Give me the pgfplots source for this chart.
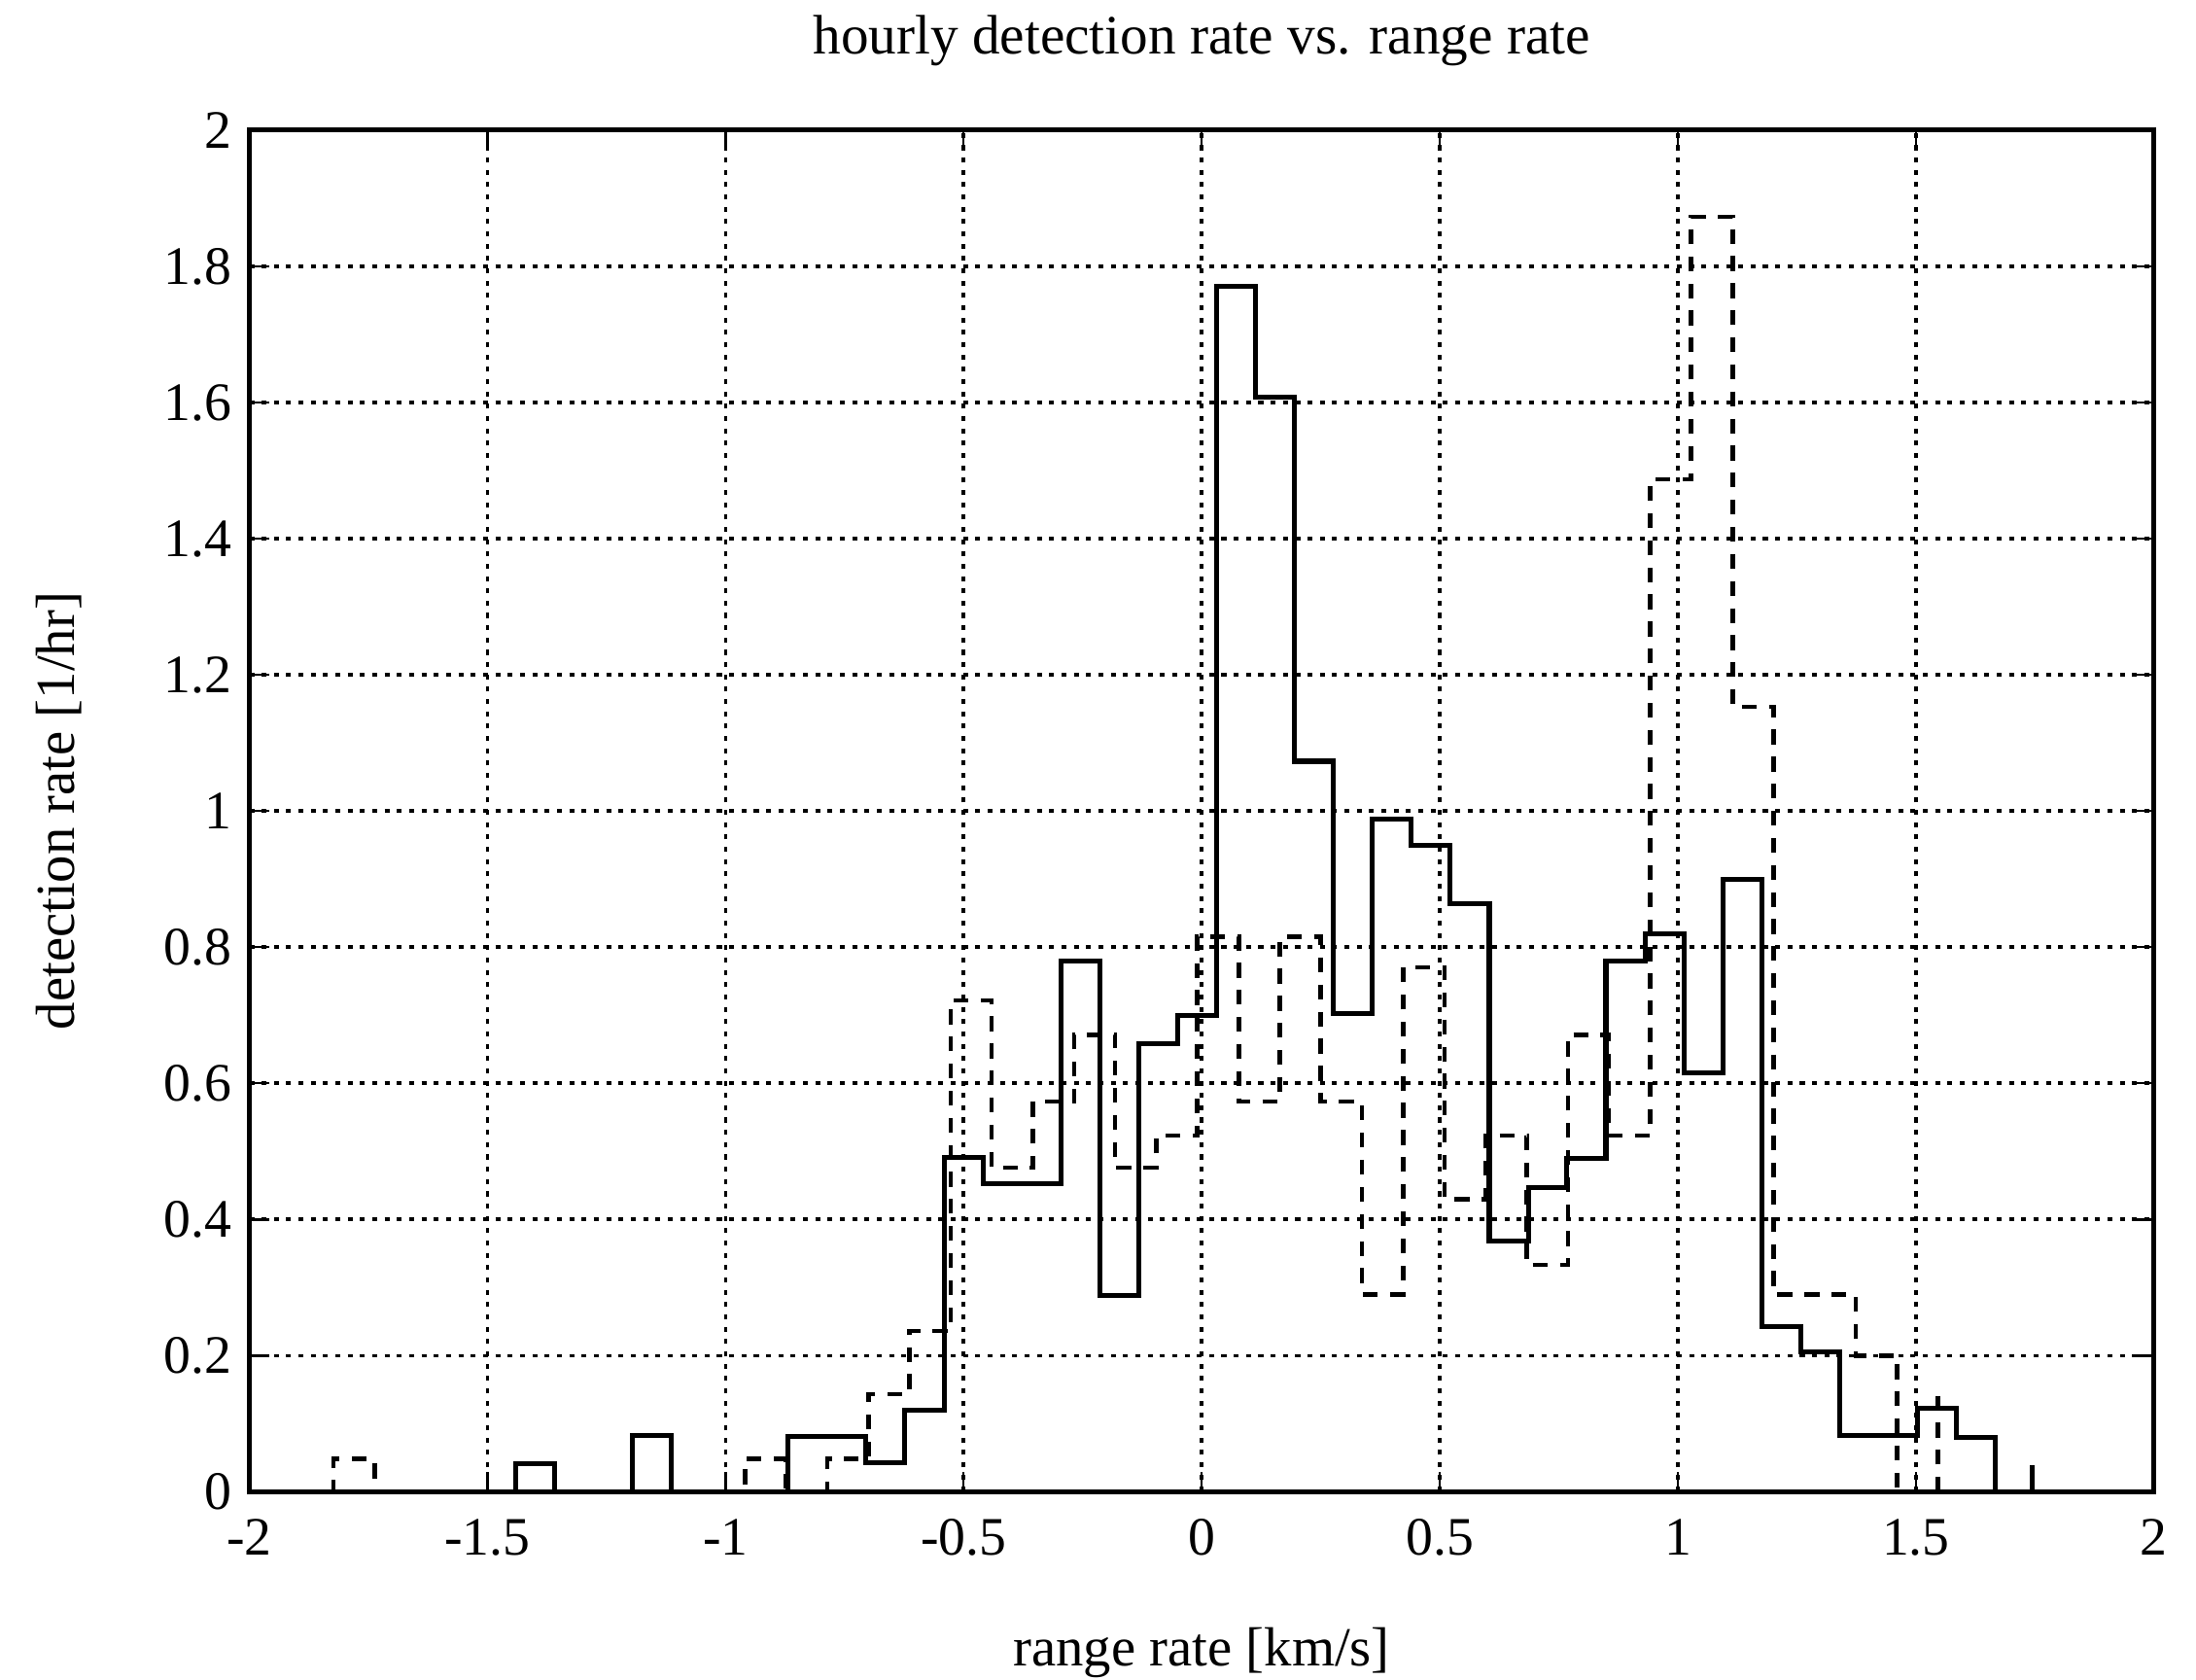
\documentclass[border=0pt]{standalone}
\usepackage{fontspec}
\setmainfont{Liberation Serif}
\usepackage{pgfplots}
\pgfplotsset{compat=1.18}

% stairs: value holds from x until the next x
\pgfplotstableread{
x y
-2 0
-1.441 0.041
-1.359 0
-1.196 0.083
-1.114 0
-0.869 0.081
-0.705 0.042
-0.623 0.120
-0.541 0.491
-0.459 0.452
-0.296 0.779
-0.214 0.288
-0.132 0.658
-0.051 0.700
0.031 1.771
0.113 1.608
0.195 1.073
0.277 0.702
0.358 0.988
0.440 0.949
0.522 0.864
0.604 0.368
0.686 0.447
0.767 0.489
0.849 0.779
0.931 0.820
1.013 0.615
1.095 0.900
1.176 0.243
1.258 0.205
1.340 0.083
1.504 0.122
1.585 0.080
1.667 0
2 0
}\solid

\pgfplotstableread{
x y
-2 0
-1.823 0.048
-1.737 0
-0.959 0.048
-0.873 0
-0.786 0.048
-0.700 0.143
-0.614 0.236
-0.527 0.722
-0.441 0.476
-0.354 0.573
-0.268 0.671
-0.182 0.476
-0.095 0.523
-0.009 0.815
0.078 0.573
0.164 0.815
0.250 0.573
0.337 0.290
0.423 0.770
0.510 0.430
0.596 0.523
0.683 0.333
0.769 0.671
0.855 0.523
0.942 1.487
1.028 1.873
1.115 1.153
1.201 0.290
1.374 0.200
1.460 0
2 0
}\dashedser

\begin{document}
\begin{tikzpicture}
\begin{axis}[
    at={(0,0)}, anchor=south west,
    scale only axis,
    width=13.6cm, height=9.72cm,
    xmin=-2, xmax=2, ymin=0, ymax=2,
    xtick={-2,-1.5,...,2},
    ytick={0,0.2,...,2},
    yticklabels={0,0.2,0.4,0.6,0.8,1,1.2,1.4,1.6,1.8,2},
    xticklabels={-2,-1.5,-1,-0.5,0,0.5,1,1.5,2},
    tick align=inside,
    major tick length=4pt,
    tick style={black, line width=0.5pt},
    axis line style={line width=1pt},
    grid=major,
    grid style={black, line width=0.7pt, dash pattern=on 1pt off 1.5pt},
    ticklabel style={font=\fontsize{11}{13}\selectfont},
    /pgf/number format/assume math mode=true,
    xticklabel style={yshift=-2pt},
    title={hourly detection rate vs. range rate},
    title style={font=\fontsize{11.3}{13}\selectfont, at={(axis description cs:0.5,1.044)}, anchor=center},
    xlabel={range rate [km/s]},
    xlabel style={font=\fontsize{11.2}{13}\selectfont, at={(axis description cs:0.5,-0.118)}, anchor=center},
    ylabel={detection rate [1/hr]},
    ylabel style={font=\fontsize{11.2}{13}\selectfont, at={(axis description cs:-0.1,0.5)}, anchor=center},
]
\addplot[black, line width=1pt, const plot mark left] table[x=x,y=y] {\solid};
\addplot[black, line width=0.9pt, const plot mark left, dash pattern=on 3pt off 2.5pt] table[x=x,y=y] {\dashedser};
% narrow spikes
\addplot[black, line width=0.9pt, dash pattern=on 3pt off 2.5pt] coordinates {(1.546,0) (1.546,0.141)};
\addplot[black, line width=1pt] coordinates {(1.745,0) (1.745,0.039)};
\end{axis}
\pgfresetboundingbox
\path[use as bounding box] (-1.78,-1.34) rectangle (13.9,10.65);
\end{tikzpicture}
\end{document}
